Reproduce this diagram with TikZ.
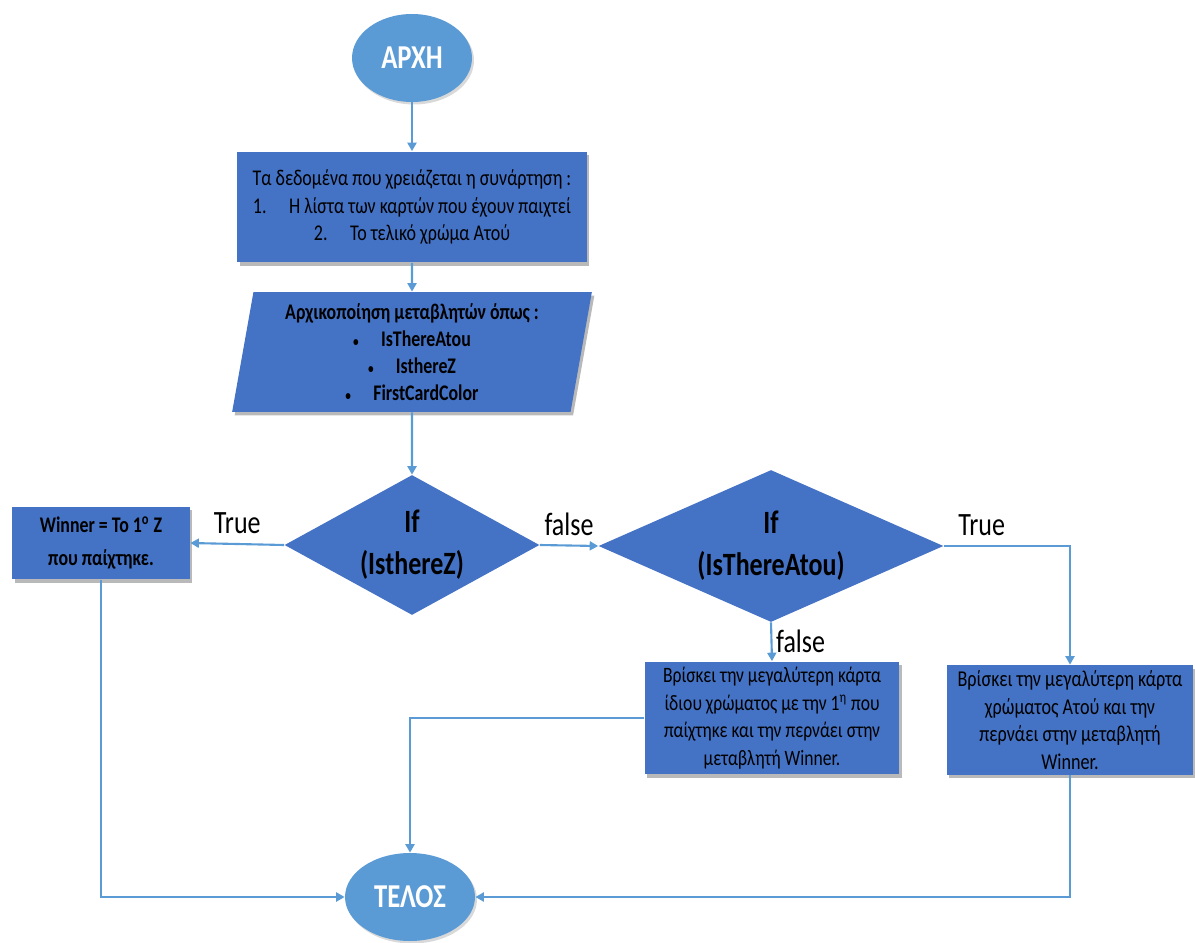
\documentclass[tikz,border=0pt]{standalone}
\usepackage{fontspec}
\setmainfont{Carlito}[FakeStretch=0.8]
\usetikzlibrary{shapes.geometric,arrows.meta,shadows}
\definecolor{boxblue}{HTML}{4472C4}
\definecolor{ovalblue}{HTML}{5B9BD5}
\definecolor{lineblue}{HTML}{5B9BD5}
\newcommand{\smallbullet}{{\fontsize{8}{8}\selectfont\textbullet}\quad}
\tikzset{
  startstop/.style={ellipse, fill=ovalblue, text=white, inner sep=0pt,
    minimum width=2.4cm, minimum height=1.76cm, font=\fontsize{19}{20}\selectfont\bfseries,
    drop shadow={shadow xshift=0.04cm, shadow yshift=-0.05cm, opacity=0.3}},
  process/.style={rectangle, fill=boxblue, text=black, align=center, inner sep=2pt,
    drop shadow={shadow xshift=0.05cm, shadow yshift=-0.07cm, opacity=0.55}},
  io/.style={trapezium, trapezium left angle=80, trapezium right angle=100,
    trapezium stretches=true, fill=boxblue, text=black, align=center, inner sep=0pt,
    drop shadow={shadow xshift=0.05cm, shadow yshift=-0.07cm, opacity=0.55}},
  decision/.style={diamond, fill=boxblue, text=black, align=center, inner sep=0pt,
    font=\fontsize{18.5}{23.8}\selectfont\bfseries},
  link/.style={draw=lineblue, line width=1.2pt, -{Triangle[length=1.7mm,width=1.8mm]}},
  lbl/.style={font=\fontsize{18.5}{20}\selectfont, text=black, inner sep=2pt}
}
\begin{document}
\begin{tikzpicture}[x=0.02cm,y=-0.02cm]
  \useasboundingbox (0,0) rectangle (1195,942);

  % start / end
  \node[startstop] (start) at (412,58) {ΑΡΧΗ};
  \node[startstop, minimum width=2.6cm] (end) at (410,897) {ΤΕΛΟΣ};

  % input data
  \node[process, minimum width=7cm, minimum height=2.22cm,
    font=\fontsize{12.8}{15.9}\selectfont] (data) at (412,207)
    {Τα δεδομένα που χρειάζεται η συνάρτηση :\\
     1.\quad Η λίστα των καρτών που έχουν παιχτεί\\
     2.\quad Το τελικό χρώμα Ατού};

  % initialisation
  \node[io, minimum width=7.2cm, minimum height=2.4cm,
    font=\fontsize{12.7}{15.3}\selectfont\bfseries] (init) at (412,352)
    {Αρχικοποίηση μεταβλητών όπως :\\
     \smallbullet IsThereAtou\\
     \smallbullet IsthereZ\\
     \smallbullet FirstCardColor};

  % decisions
  \node[decision, aspect=1.82, minimum width=5.1cm, minimum height=2.8cm] (ifz) at (412,545)
    {If\\(IsthereZ)};
  \node[decision, aspect=2.27, minimum width=6.9cm, minimum height=3.04cm] (ifa) at (771,546)
    {If\\(IsThereAtou)};

  % results
  \node[process, minimum width=3.56cm, minimum height=1.46cm,
    font=\fontsize{12.7}{18.7}\selectfont\bfseries] (winz) at (101,543)
    {Winner = Το 1\textsuperscript{ο} Z\\που παίχτηκε.};
  \node[process, minimum width=5.1cm, minimum height=2.26cm,
    font=\fontsize{12.5}{15.7}\selectfont] (same) at (772,718)
    {Βρίσκει την μεγαλύτερη κάρτα\\
     ίδιου χρώματος με την 1\textsuperscript{η} που\\
     παίχτηκε και την περνάει στην\\
     μεταβλητή Winner.};
  \node[process, minimum width=4.94cm, minimum height=2.2cm,
    font=\fontsize{12.9}{15.7}\selectfont] (atou) at (1070,720)
    {Βρίσκει την μεγαλύτερη κάρτα\\
     χρώματος Ατού και την\\
     περνάει στην μεταβλητή\\
     Winner.};

  % connectors
  \draw[link] (start) -- (data);
  \draw[link] (data) -- (init);
  \draw[link] (init) -- (ifz);
  \draw[link] (ifz.west) -- node[lbl, above, yshift=3pt] {True} (winz.east);
  \draw[link] (ifz.east) -- node[lbl, above, yshift=3pt] {false} (ifa.west);
  \draw[link] (ifa.south) -- node[lbl, right] {false} (same.north);
  \draw[link] (ifa.east) -| node[lbl, above, pos=0.15, yshift=3pt] {True} (atou.north);
  \draw[link] (winz.south) |- (end.west);
  \draw[link] (same.west) -| (end.north);
  \draw[link] (atou.south) |- (end.east);
\end{tikzpicture}
\end{document}
